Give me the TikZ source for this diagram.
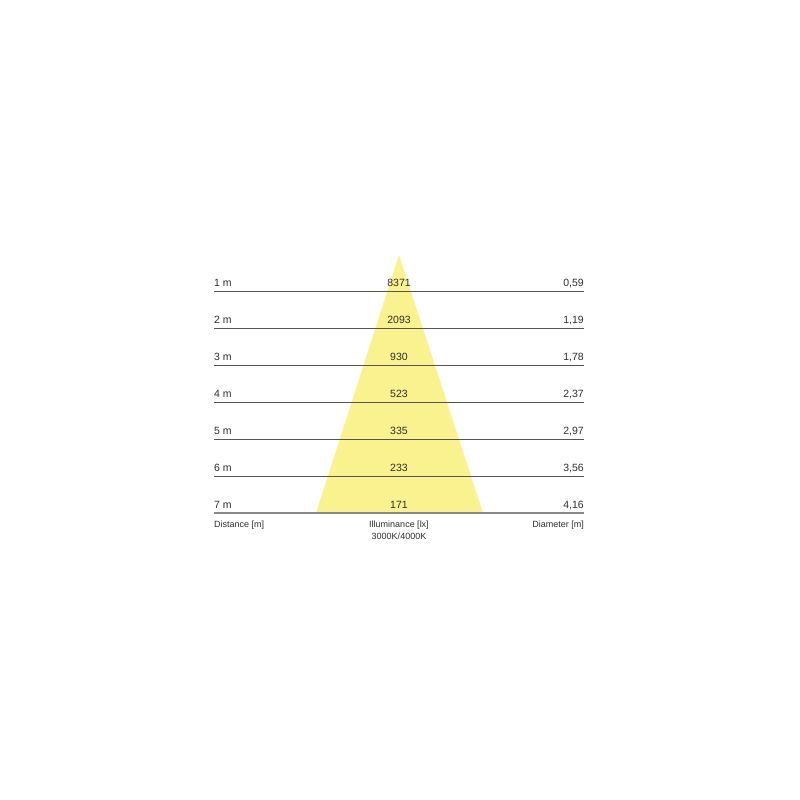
\documentclass[tikz,border=0pt]{standalone}
\usepackage{fontspec}
\setmainfont{Liberation Sans}
\definecolor{beam}{RGB}{250,242,142}
\definecolor{rule}{RGB}{85,85,85}
\definecolor{txt}{RGB}{45,45,45}
\begin{document}
\begin{tikzpicture}[x=1pt,y=-1pt,
  lbl/.style={inner sep=0pt,font=\fontsize{10.5}{12}\selectfont,text=txt},
  captxt/.style={inner sep=0pt,font=\fontsize{9}{11}\selectfont,text=txt},
  rowline/.style={draw=rule,line width=0.9pt}]
\useasboundingbox (0,0) rectangle (800,800);
\fill[beam] (399,255) -- (483,513) -- (316,513) -- cycle;
\foreach \i/\d/\lx/\dm in {1/1 m/8371/{0,59},2/2 m/2093/{1,19},3/3 m/930/{1,78},4/4 m/523/{2,37},5/5 m/335/{2,97},6/6 m/233/{3,56}}{
  \pgfmathsetmacro{\yy}{291+37*(\i-1)}
  \coordinate (l\i) at (214,\yy);
  \coordinate (r\i) at (584,\yy);
  \draw[rowline] (l\i) -- (r\i);
  \node[lbl,anchor=base west] (d\i) at (214,\yy-4.5) {\d};
  \node[lbl,anchor=base] (v\i) at (399,\yy-4.5) {\lx};
  \node[lbl,anchor=base east] (m\i) at (584,\yy-4.5) {\dm};
}
\coordinate (l7) at (214,513);
\coordinate (r7) at (584,513);
\draw[draw=rule!70,line width=1.3pt] (l7) -- (r7);
\node[lbl,anchor=base west] (d7) at (214,508.5) {7 m};
\node[lbl,anchor=base] (v7) at (399,508.5) {171};
\node[lbl,anchor=base east] (m7) at (584,508.5) {4,16};
\node[captxt,anchor=base west] (cd) at (214,527.5) {Distance [m]};
\node[captxt,anchor=base] (ci) at (399,527.5) {Illuminance [lx]};
\node[captxt,anchor=base] (ck) at (399,539.5) {3000K/4000K};
\node[captxt,anchor=base east] (cm) at (584,527.5) {Diameter [m]};
\end{tikzpicture}
\end{document}
